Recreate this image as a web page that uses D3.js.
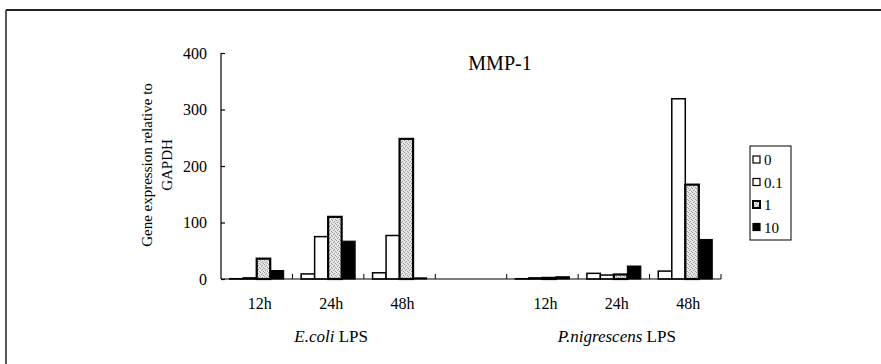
<!DOCTYPE html>
<html><head><meta charset="utf-8">
<script src="https://cdn.jsdelivr.net/npm/d3@7"></script>
<style>body{margin:0;background:#fff}svg{display:block}text{font-family:"Liberation Serif","Times New Roman",serif;fill:#000}</style>
</head><body>
<svg id="c" width="881" height="364"></svg>
<script>
const categories = ["12h","24h","48h","","12h","24h","48h"];
const series = ["0","0.1","1","10"];
const values0   = [0.5, 9, 11, null, 0.5, 10, 14];
const values01  = [2, 75, 77, null, 2, 7, 319];
const values1   = [36, 110, 248, null, 2, 8, 167];
const values10  = [15, 67, 2, null, 4, 23, 70];
const yTicks = [0,100,200,300,400];
const groups = [{label:"E.coli", from:0, to:2},{label:"P.nigrescens", from:4, to:6}];

const svgEl = d3.select("#c");
const defs = svgEl.append("defs");
const pat = defs.append("pattern").attr("id","stip").attr("patternUnits","userSpaceOnUse").attr("width",4).attr("height",4);
pat.append("rect").attr("width",4).attr("height",4).attr("fill","#e6e6e6");
[[0,0],[2,1],[1,2],[3,3]].forEach(p=>pat.append("rect").attr("x",p[0]).attr("y",p[1]).attr("width",1).attr("height",1).attr("fill","#9a9a9a"));

const fills = {"0":"#fff","0.1":"#fff","1":"url(#stip)","10":"#000"};
const strokeW = {"0":1.5,"0.1":1.5,"1":2.2,"10":1};
const allVals = [values0, values01, values1, values10];

// frame
svgEl.append("line").attr("x1",6).attr("x2",881).attr("y1",10).attr("y2",10).attr("stroke","#222").attr("stroke-width",2);
svgEl.append("line").attr("x1",6).attr("x2",6).attr("y1",10).attr("y2",364).attr("stroke","#222").attr("stroke-width",1.5);

const ids = categories.map((c,i)=>i);
const x = d3.scaleBand().domain(ids).range([221,721]).padding(0);
const xs = d3.scaleBand().domain(series).range([0,x.bandwidth()]).paddingInner(0).paddingOuter(0.645);
const y = d3.scaleLinear().domain([0,400]).range([279,53]);

const g = svgEl.append("g");
series.forEach((s,si)=>{
  const vals = allVals[si];
  g.selectAll(null).data(ids.filter(i=>vals[i]!=null)).enter().append("rect")
    .attr("x",i=>x(i)+xs(s))
    .attr("width",xs.bandwidth())
    .attr("y",i=>y(vals[i]))
    .attr("height",i=>y(0)-y(vals[i]))
    .attr("fill",fills[s]).attr("stroke","#000").attr("stroke-width",strokeW[s]);
});

// y axis
const yAx = svgEl.append("g").attr("transform","translate(221,0)")
  .call(d3.axisLeft(y).tickValues(yTicks).tickSize(-4).tickPadding(14).tickFormat(d3.format("d")));
yAx.attr("font-family",null);
yAx.selectAll("path,line").attr("stroke","#000").attr("stroke-width",1.2);
yAx.select(".domain").attr("d","M0,"+y(400)+"V"+y(0));
yAx.selectAll("text").attr("font-size",16);

// x axis
const xa = svgEl.append("g");
xa.append("line").attr("x1",x.range()[0]).attr("x2",x.range()[1]).attr("y1",y(0)).attr("y2",y(0)).attr("stroke","#000").attr("stroke-width",1.2);
const bounds = ids.map(i=>x(i)).concat([x.range()[1]]);
xa.selectAll(".tk").data(bounds.slice(1)).enter().append("line")
  .attr("x1",d=>d).attr("x2",d=>d).attr("y1",y(0)).attr("y2",y(0)-5).attr("stroke","#000").attr("stroke-width",1);
xa.selectAll(".lb").data(ids).enter().append("text")
  .attr("x",i=>x(i)+x.bandwidth()/2+3).attr("y",309).attr("text-anchor","middle").attr("font-size",16)
  .text(i=>categories[i]);
groups.forEach(gr=>{
  const cx = (x(gr.from)+x(gr.to)+x.bandwidth())/2 + 3;
  const t = svgEl.append("text").attr("x",cx).attr("y",342).attr("text-anchor","middle").attr("font-size",17);
  t.append("tspan").attr("font-style","italic").text(gr.label);
  t.append("tspan").text(" LPS");
});

// y title
const yt = svgEl.append("text").attr("transform","translate(152,165) rotate(-90)").attr("text-anchor","middle").attr("font-size",15);
yt.append("tspan").attr("x",0).attr("dy",0).text("Gene expression relative to");
yt.append("tspan").attr("x",0).attr("dy",20).text("GAPDH");

// title
svgEl.append("text").attr("x",500).attr("y",70).attr("text-anchor","middle").attr("font-size",20).text("MMP-1");

// legend
const lg = svgEl.append("g");
lg.append("rect").attr("x",750).attr("y",146).attr("width",41).attr("height",94).attr("fill","none").attr("stroke","#000").attr("stroke-width",1);
series.forEach((s,i)=>{
  const yy = 160 + i*22.5;
  lg.append("rect").attr("x",753).attr("y",yy-4).attr("width",7).attr("height",7)
    .attr("fill",fills[s]).attr("stroke","#000").attr("stroke-width",s==="1"?2:1.2);
  lg.append("text").attr("x",764).attr("y",yy+5).attr("font-size",15).text(s);
});
</script>
</body></html>
